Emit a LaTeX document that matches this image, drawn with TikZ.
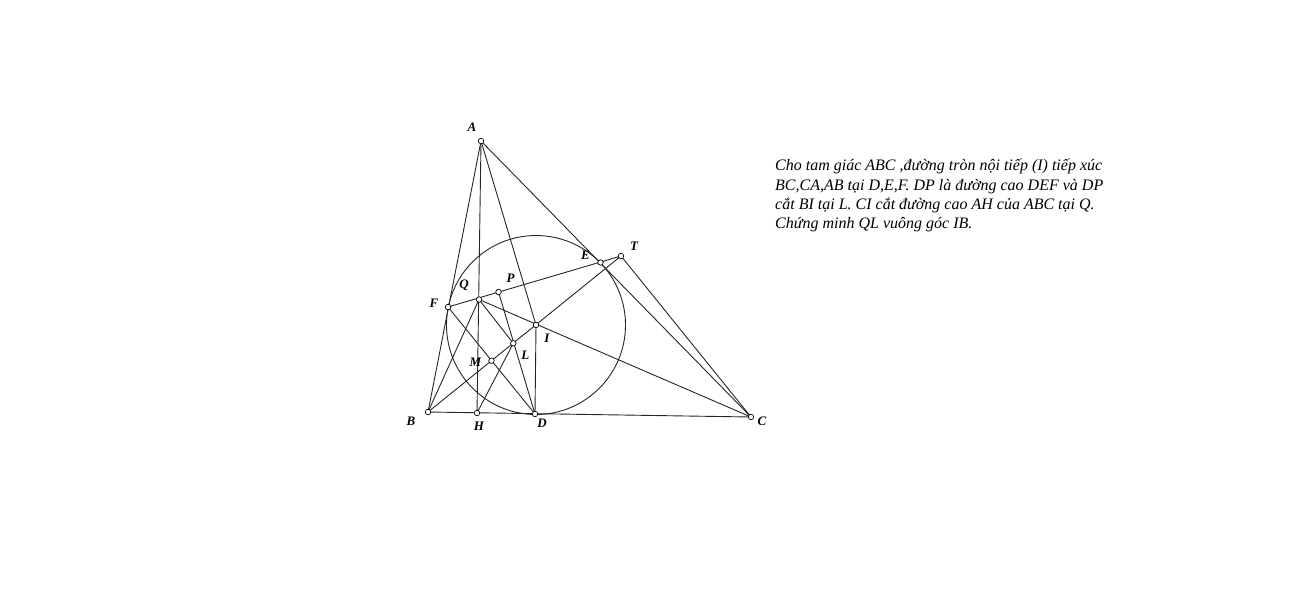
\documentclass[tikz,border=0pt]{standalone}
\usepackage{fontspec}
\setmainfont{Liberation Serif}
\usepackage{tikz}
\usetikzlibrary{calc}

\begin{document}
\begin{tikzpicture}[
  x=1pt, y=-1pt,
  seg/.style={line width=0.9pt, black!85},
  pt/.style={circle, draw, fill=white, line width=0.7pt, inner sep=0pt, minimum size=5.5pt},
  lab/.style={font=\fontsize{13}{15}\selectfont\bfseries\itshape, inner sep=0pt},
  txt/.style={font=\fontsize{16}{19.3}\selectfont\itshape, align=left, inner sep=0pt, anchor=north west}
]
\useasboundingbox (0,0) rectangle (1292,607);

% Points
\coordinate (A) at (481,141);
\coordinate (B) at (428,412);
\coordinate (C) at (751,417);
\coordinate (D) at (535,414);
\coordinate (H) at (477,413);
\coordinate (I) at (536,325);
\coordinate (E) at (600.5,262.5);
\coordinate (T) at (621,256);
\coordinate (F) at (448,307);
\coordinate (Q) at (479,299.5);
\coordinate (P) at (498.5,292);
\coordinate (L) at (513.3,343.3);
\coordinate (M) at (491.5,360.7);

% Incircle
\draw[seg] (I) circle (89.5);

% Segments
\foreach \a/\b in {A/B,B/C,C/A,A/H,A/I,I/D,F/T,B/T,T/C,Q/C,B/Q,F/D,D/P,Q/L,H/L} {
  \draw[seg] (\a) -- (\b);
}

% Dots
\foreach \p in {A,B,C,D,H,I,E,T,F,Q,P,L,M} {
  \node[pt] (d\p) at (\p) {};
}

% Labels
\node[lab] (lA) at ($(A)+(-9,-14)$) {A};
\node[lab] (lB) at ($(B)+(-17,9)$) {B};
\node[lab] (lC) at ($(C)+(11,4)$) {C};
\node[lab] (lD) at ($(D)+(7,9)$) {D};
\node[lab] (lH) at ($(H)+(2,13)$) {H};
\node[lab] (lI) at ($(I)+(11,13)$) {I};
\node[lab] (lE) at ($(E)+(-15,-7)$) {E};
\node[lab] (lT) at ($(T)+(13,-10)$) {T};
\node[lab] (lF) at ($(F)+(-14,-4)$) {F};
\node[lab] (lQ) at ($(Q)+(-15,-14)$) {Q};
\node[lab] (lP) at ($(P)+(12,-14)$) {P};
\node[lab] (lL) at ($(L)+(12,12)$) {L};
\node[lab] (lM) at ($(M)+(-16,2)$) {M};

% Problem statement
\node[txt] (stmt) at (775,159) {Cho tam giác ABC ,đường tròn nội tiếp (I) tiếp xúc\\
BC,CA,AB tại D,E,F. DP là đường cao DEF và DP\\
cắt BI tại L. CI cắt đường cao AH của ABC tại Q.\\
Chứng minh QL vuông góc IB.};
\end{tikzpicture}
\end{document}
